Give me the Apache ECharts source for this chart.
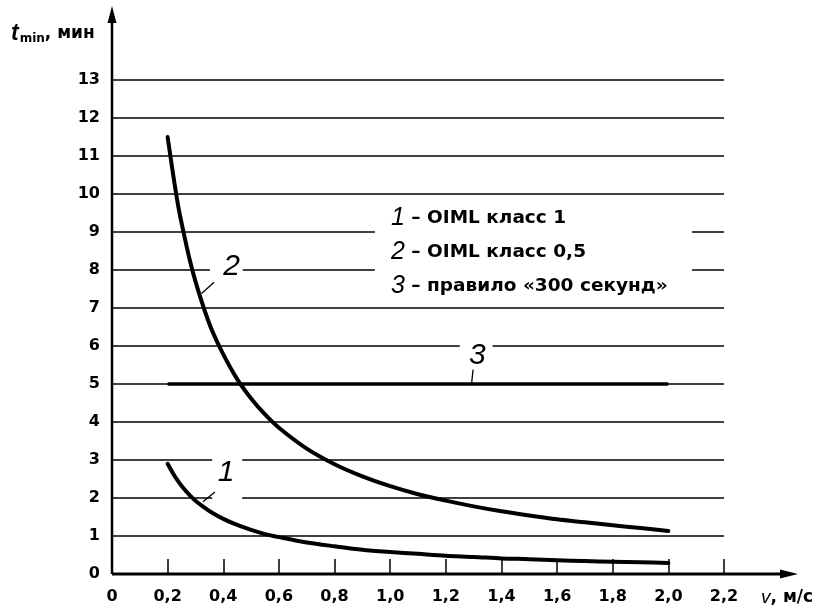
<!DOCTYPE html>
<html>
<head>
<meta charset="utf-8">
<script src="https://cdn.jsdelivr.net/npm/echarts@6/dist/echarts.min.js"></script>
<style>
  html, body { margin: 0; padding: 0; background: #fff; }
  #chart { width: 828px; height: 615px; }
</style>
</head>
<body>
<div id="chart"></div>
<script>
// Flow speed, m/s
const speeds = [0.2, 0.22, 0.24, 0.26, 0.28, 0.3, 0.33, 0.36, 0.4, 0.45, 0.5, 0.55, 0.6, 0.7, 0.8, 0.9,
                1.0, 1.1, 1.2, 1.3, 1.4, 1.5, 1.6, 1.7, 1.8, 1.9, 2.0];
// Minimum test time, min — OIML class 1
const class1 = [2.9, 2.64, 2.42, 2.23, 2.07, 1.93, 1.76, 1.61, 1.45, 1.29, 1.16, 1.05, 0.97, 0.83, 0.73, 0.64,
                0.58, 0.53, 0.48, 0.45, 0.41, 0.39, 0.36, 0.34, 0.32, 0.31, 0.29];
// Minimum test time, min — OIML class 0.5
const class05 = [11.5, 10.5, 9.6, 8.9, 8.25, 7.7, 7.0, 6.4, 5.78, 5.13, 4.62, 4.2, 3.85, 3.3, 2.89, 2.57,
                 2.31, 2.1, 1.93, 1.78, 1.65, 1.54, 1.44, 1.36, 1.28, 1.21, 1.13];
// "300 seconds" rule
const ruleSpeeds = [0.2, 2.0];
const rule300 = [5, 5];

const xTicks = ['0', '0,2', '0,4', '0,6', '0,8', '1,0', '1,2', '1,4', '1,6', '1,8', '2,0', '2,2'];
const legendItems = [
  ['1', 'OIML класс 1'],
  ['2', 'OIML класс 0,5'],
  ['3', 'правило «300 секунд»']
];

const WIDE = '"DejaVu Sans", "Liberation Sans", sans-serif';
const ARIAL = '"Liberation Sans", Arial, sans-serif';
const pairs = (xs, ys) => xs.map((x, i) => [x, ys[i]]);

const chart = echarts.init(document.getElementById('chart'), null, { renderer: 'canvas' });

chart.setOption({
  animation: false,
  backgroundColor: '#fff',
  grid: { left: 112, right: 104, top: 80, bottom: 41 },
  xAxis: {
    type: 'value', min: 0, max: 2.2, interval: 0.2,
    axisLine: { show: false },
    axisTick: { show: true, inside: true, length: 15, lineStyle: { color: '#000', width: 1.5 } },
    axisLabel: {
      margin: 15, color: '#000', fontFamily: WIDE, fontWeight: 'bold', fontSize: 16,
      formatter: v => xTicks[Math.round(v / 0.2)]
    },
    splitLine: { show: false }
  },
  yAxis: {
    type: 'value', min: 0, max: 13, interval: 1,
    axisLine: { show: false },
    axisTick: { show: false },
    axisLabel: { margin: 12, color: '#000', fontFamily: WIDE, fontWeight: 'bold', fontSize: 16 },
    splitLine: { show: true, lineStyle: { color: '#000', width: 1.6 } }
  },
  series: [
    {
      name: 'OIML класс 1', type: 'line', data: pairs(speeds, class1),
      smooth: 0.3, showSymbol: false, z: 5,
      lineStyle: { color: '#000', width: 4, cap: 'round', join: 'round' }
    },
    {
      name: 'OIML класс 0,5', type: 'line', data: pairs(speeds, class05),
      smooth: 0.3, showSymbol: false, z: 5,
      lineStyle: { color: '#000', width: 4, cap: 'round', join: 'round' }
    },
    {
      name: 'правило «300 секунд»', type: 'line', data: pairs(ruleSpeeds, rule300),
      showSymbol: false, z: 5,
      lineStyle: { color: '#000', width: 3.5 }
    }
  ]
});

// Decorations placed from data coordinates: axes with arrows, labels, legend.
const P = (x, y) => chart.convertToPixel({ gridIndex: 0 }, [x, y]);
const origin = P(0, 0);
const yTop = P(0, 13);
const xEnd = P(2.2, 0);
const g = [];

// white backing that interrupts grid lines under text
function gap(x0, y0, x1, y1) {
  const a = P(x0, y0), b = P(x1, y1);
  g.push({ type: 'rect', z: 50, silent: true,
    shape: { x: Math.min(a[0], b[0]), y: Math.min(a[1], b[1]), width: Math.abs(b[0] - a[0]), height: Math.abs(b[1] - a[1]) },
    style: { fill: '#fff' } });
}
function seg(p, q, w) {
  g.push({ type: 'line', z: 60, silent: true,
    shape: { x1: p[0], y1: p[1], x2: q[0], y2: q[1] },
    style: { stroke: '#000', lineWidth: w } });
}
function curveLabel(txt, x, y) {
  const p = P(x, y);
  g.push({ type: 'text', z: 60, silent: true, x: p[0], y: p[1],
    style: { text: txt, font: 'italic 30px ' + ARIAL, fill: '#000', align: 'center', verticalAlign: 'middle' } });
}

// y axis with arrow
g.push({ type: 'line', z: 70, shape: { x1: origin[0], y1: origin[1], x2: origin[0], y2: yTop[1] - 62 }, style: { stroke: '#000', lineWidth: 2.5 } });
g.push({ type: 'polygon', z: 70, shape: { points: [[origin[0], yTop[1] - 74], [origin[0] - 4.5, yTop[1] - 57], [origin[0] + 4.5, yTop[1] - 57]] }, style: { fill: '#000' } });
// x axis with arrow
g.push({ type: 'line', z: 70, shape: { x1: origin[0], y1: origin[1], x2: xEnd[0] + 60, y2: origin[1] }, style: { stroke: '#000', lineWidth: 3 } });
g.push({ type: 'polygon', z: 70, shape: { points: [[xEnd[0] + 74, origin[1]], [xEnd[0] + 56, origin[1] - 4.5], [xEnd[0] + 56, origin[1] + 4.5]] }, style: { fill: '#000' } });

// axis titles
g.push({ type: 'text', z: 70, x: 11, y: 34,
  style: {
    text: '{t|t}{s|min}{m|, мин}', verticalAlign: 'middle', align: 'left',
    rich: {
      t: { font: 'italic bold 23px ' + ARIAL, fill: '#000' },
      s: { font: 'bold 12px ' + WIDE, fill: '#000', padding: [9, 0, 0, 1] },
      m: { font: 'bold 17px ' + WIDE, fill: '#000' }
    }
  } });
g.push({ type: 'text', z: 70, x: xEnd[0] + 37, y: origin[1] + 24,
  style: {
    text: '{v|v}{m|, м/с}', verticalAlign: 'middle', align: 'left',
    rich: {
      v: { font: 'italic 19px ' + ARIAL, fill: '#000' },
      m: { font: 'bold 17px ' + WIDE, fill: '#000' }
    }
  } });

// curve labels with gaps in the grid lines behind them
gap(0.352, 8.12, 0.47, 7.88);
curveLabel('2', 0.43, 8.1);
seg(P(0.367, 7.68), P(0.322, 7.38), 1.3);

gap(0.36, 3.15, 0.468, 1.85);
curveLabel('1', 0.41, 2.67);
seg(P(0.37, 2.16), P(0.327, 1.9), 1.3);

gap(1.25, 6.12, 1.368, 5.88);
curveLabel('3', 1.313, 5.75);
seg(P(1.298, 5.38), P(1.293, 5.04), 1.3);

// legend block
gap(0.945, 9.7, 2.085, 7.2);
legendItems.forEach((it, i) => {
  g.push({ type: 'text', z: 60, x: 391, y: 218 + i * 34,
    style: {
      text: '{n|' + it[0] + '}{d| – ' + it[1] + '}', align: 'left', verticalAlign: 'middle',
      rich: {
        n: { font: 'italic 25px ' + ARIAL, fill: '#000' },
        d: { font: 'bold 18.5px ' + WIDE, fill: '#000' }
      }
    } });
});

chart.setOption({ graphic: g });
</script>
</body>
</html>
